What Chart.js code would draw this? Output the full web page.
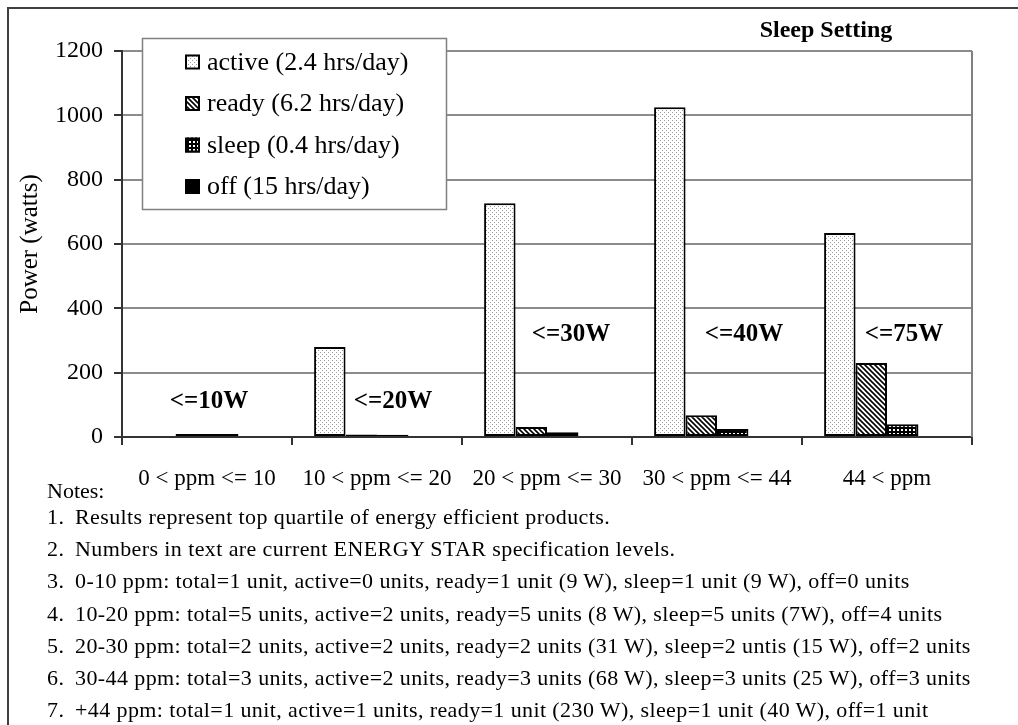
<!DOCTYPE html>
<html>
<head>
<meta charset="utf-8">
<title>Sleep Setting</title>
<script src="https://cdn.jsdelivr.net/npm/chart.js@4.4.1/dist/chart.umd.min.js"></script>
<style>
    html, body { margin: 0; padding: 0; background: #fff; }
    #wrap { position: relative; width: 1018px; height: 725px; overflow: hidden; font-family: 'Liberation Serif', 'Times New Roman', serif; color: #000; }
    #frame { position: absolute; left: 7px; top: 7px; width: 1030px; height: 740px; border-left: 2px solid #404040; border-top: 2px solid #404040; }
    #chartBox { position: absolute; left: 0; top: 0; width: 1018px; height: 725px; }
    #notesTitle { position: absolute; left: 47px; top: 477px; font-size: 22px; line-height: 28px; }
    #notesList { position: absolute; left: 47px; top: 501px; font-size: 22px; line-height: 32.2px; white-space: nowrap; letter-spacing: 0.4px; }
    #notesList .num { display: inline-block; width: 28px; }
</style>
</head>
<body>
<div id="wrap">
    <div id="chartBox"><canvas id="powerChart"></canvas></div>
    <div id="frame"></div>
    <div id="notesTitle">Notes:</div>
    <div id="notesList"></div>
</div>
<script>
// ============ DATA ============
const categories = ['0 < ppm <= 10', '10 < ppm <= 20', '20 < ppm <= 30', '30 < ppm <= 44', '44 < ppm'];
const seriesNames = ['active (2.4 hrs/day)', 'ready (6.2 hrs/day)', 'sleep (0.4 hrs/day)', 'off (15 hrs/day)'];
const activeWatts = [0, 280, 727, 1025, 634];
const readyWatts = [9, 8, 31, 68, 230];
const sleepWatts = [9, 7, 15, 25, 40];
const offWatts = [0, 0, 0, 0, 0];
const yTicks = [0, 200, 400, 600, 800, 1000, 1200];
const limitLabels = ['<=10W', '<=20W', '<=30W', '<=40W', '<=75W'];
const notes = [
    'Results represent top quartile of energy efficient products.',
    'Numbers in text are current ENERGY STAR specification levels.',
    '0-10 ppm: total=1 unit, active=0 units, ready=1 unit (9 W), sleep=1 unit (9 W), off=0 units',
    '10-20 ppm: total=5 units, active=2 units, ready=5 units (8 W), sleep=5 units (7W), off=4 units',
    '20-30 ppm: total=2 units, active=2 units, ready=2 units (31 W), sleep=2 untis (15 W), off=2 units',
    '30-44 ppm: total=3 units, active=2 units, ready=3 units (68 W), sleep=3 units (25 W), off=3 units',
    '+44 ppm: total=1 unit, active=1 units, ready=1 unit (230 W), sleep=1 unit (40 W), off=1 unit'
];

const FONT = "'Liberation Serif', 'Times New Roman', serif";

// ============ FILL PATTERNS ============
function makePattern(kind) {
    const c = document.createElement('canvas');
    const g = c.getContext('2d');
    if (kind === 'dots') {
        c.width = 4; c.height = 4;
        g.fillStyle = '#fff'; g.fillRect(0, 0, 4, 4);
        g.fillStyle = '#9a9a9a';
        g.fillRect(0, 0, 1, 1);
        g.fillRect(2, 2, 1, 1);
    } else if (kind === 'hatch') {
        c.width = 5; c.height = 5;
        g.fillStyle = '#fff'; g.fillRect(0, 0, 5, 5);
        g.strokeStyle = '#000'; g.lineWidth = 1.6;
        g.beginPath();
        g.moveTo(-1, -1); g.lineTo(6, 6);
        g.moveTo(-1, 4); g.lineTo(1, 6);
        g.moveTo(4, -1); g.lineTo(6, 1);
        g.stroke();
    } else if (kind === 'grid') {
        c.width = 4; c.height = 4;
        g.fillStyle = '#000'; g.fillRect(0, 0, 4, 4);
        g.fillStyle = '#fff'; g.fillRect(1, 1, 2, 2);
    }
    return g.createPattern(c, 'repeat');
}

const fills = [makePattern('dots'), makePattern('hatch'), makePattern('grid'), '#000'];
const seriesValues = [activeWatts, readyWatts, sleepWatts, offWatts];

// ============ EXTRA DRAWING (legend box, labels, frame line) ============
const decorPlugin = {
    id: 'decor',
    afterDatasetsDraw(chart) {
        const ctx = chart.ctx;
        const area = chart.chartArea;
        const x = chart.scales.x;
        const y = chart.scales.y;
        ctx.save();

        // right edge of the plot
        ctx.strokeStyle = '#808080';
        ctx.lineWidth = 2;
        ctx.beginPath();
        ctx.moveTo(area.right, area.top);
        ctx.lineTo(area.right, area.bottom);
        ctx.stroke();

        // limit labels above each group
        const limitShift = [2, 16, 24, 27, 17];
        const limitLevel = [110, 110, 317, 317, 317];
        ctx.fillStyle = '#000';
        ctx.font = 'bold 25px ' + FONT;
        ctx.textAlign = 'center';
        ctx.textBaseline = 'middle';
        limitLabels.forEach((t, i) => {
            ctx.fillText(t, x.getPixelForValue(i) + limitShift[i], y.getPixelForValue(limitLevel[i]));
        });

        // title at top right
        ctx.font = 'bold 24px ' + FONT;
        ctx.fillText('Sleep Setting', 826, 31);

        // legend box sitting over the grid
        ctx.fillStyle = '#fff';
        ctx.fillRect(142, 38, 304, 171);
        ctx.strokeStyle = '#808080';
        ctx.lineWidth = 1.5;
        ctx.strokeRect(142.5, 38.5, 304, 171);
        ctx.textAlign = 'left';
        ctx.font = '26px ' + FONT;
        chart.data.datasets.forEach((ds, i) => {
            const cy = 62 + i * 41.5;
            ctx.fillStyle = ds.backgroundColor;
            ctx.fillRect(185, cy - 7.5, 15, 15);
            ctx.strokeStyle = '#000';
            ctx.lineWidth = 2;
            ctx.strokeRect(186, cy - 6.5, 13, 13);
            ctx.fillStyle = '#000';
            ctx.fillText(ds.label, 207, cy + 1);
        });
        ctx.restore();
    }
};

// ============ CHART ============
const ctx = document.getElementById('powerChart').getContext('2d');
new Chart(ctx, {
    type: 'bar',
    data: {
        labels: categories,
        datasets: seriesNames.map((name, i) => ({
            label: name,
            data: seriesValues[i],
            backgroundColor: fills[i],
            borderColor: '#000',
            borderWidth: i === 3 ? 0 : 2,
            borderSkipped: false,
            categoryPercentage: 0.74,
            barPercentage: 1.0
        }))
    },
    options: {
        responsive: true,
        maintainAspectRatio: false,
        animation: false,
        layout: { padding: { left: 0, top: 51, right: 46, bottom: 0 } },
        plugins: {
            legend: { display: false },
            tooltip: { enabled: false }
        },
        scales: {
            x: {
                grid: { display: true, drawOnChartArea: false, tickLength: 8, color: '#333', lineWidth: 2 },
                border: { color: '#333', width: 2 },
                ticks: { color: '#000', font: { family: FONT, size: 23 }, padding: 20, autoSkip: false, maxRotation: 0 },
                afterFit: s => { s.height = 288; }
            },
            y: {
                min: 0,
                max: yTicks[yTicks.length - 1],
                afterBuildTicks: s => { s.ticks = yTicks.map(v => ({ value: v })); },
                grid: { color: '#8c8c8c', lineWidth: 2, tickLength: 8, tickColor: '#333' },
                border: { color: '#333', width: 2 },
                ticks: { color: '#000', font: { family: FONT, size: 24 }, padding: 11, callback: v => String(v) },
                title: { display: true, text: 'Power (watts)', color: '#000', font: { family: FONT, size: 25 }, padding: { top: 15, bottom: 0 } },
                afterFit: s => { s.width = 122; }
            }
        }
    },
    plugins: [decorPlugin]
});

// ============ NOTES ============
document.getElementById('notesList').innerHTML = notes
    .map((n, i) => `<div><span class="num">${i + 1}.</span>${n}</div>`)
    .join('');
</script>
</body>
</html>
